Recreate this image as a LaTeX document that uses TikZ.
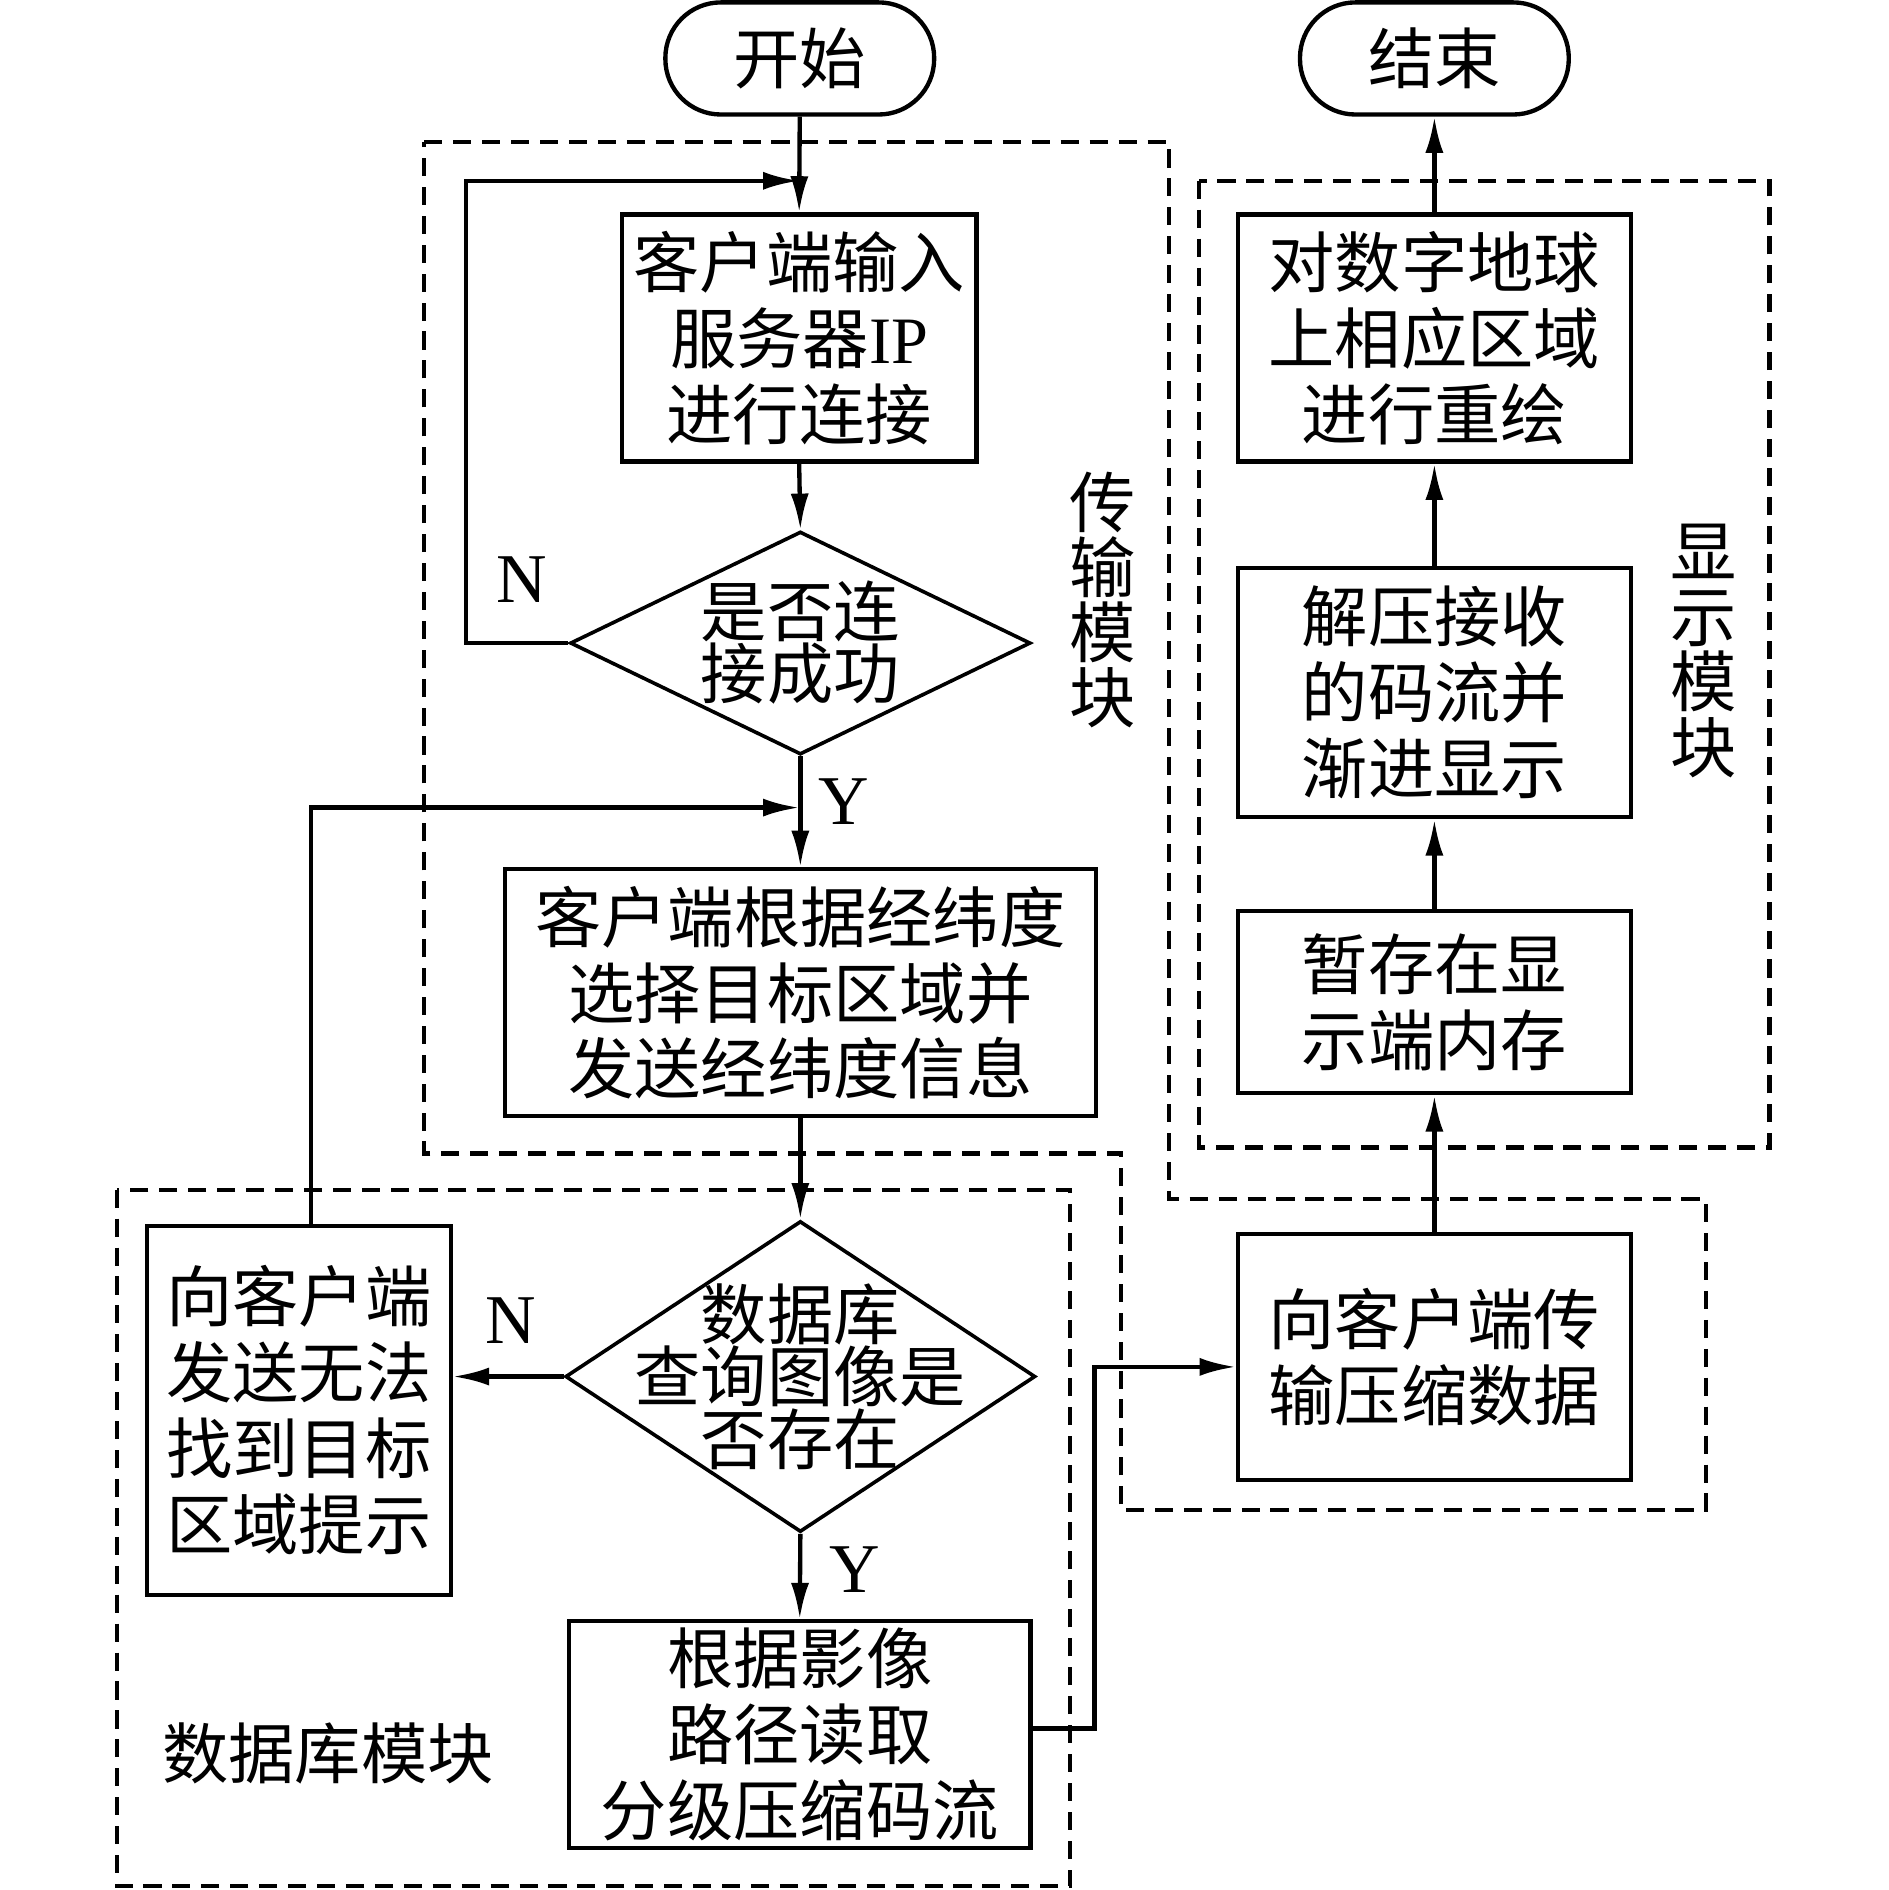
\documentclass[tikz,border=0pt]{standalone}
\usepackage{fontspec}
\setmainfont{Liberation Serif}
\newfontfamily\cjk{Noto Sans CJK SC}
\usetikzlibrary{arrows.meta,shapes.geometric}
\begin{document}
\begin{tikzpicture}[x=1pt,y=-1pt,
  every node/.style={inner sep=0pt},
  proc/.style={draw, line width=3.6pt, align=center, font=\cjk\fontsize{55}{63}\selectfont},
  term/.style={draw, line width=3.6pt, rounded corners=46pt, minimum width=223pt, minimum height=93pt, font=\cjk\fontsize{55}{63}\selectfont},
  dec/.style={draw, diamond, line width=3pt, inner sep=0pt},
  dectext/.style={align=center, font=\cjk\fontsize{55}{52}\selectfont},
  arr/.style={line width=3.6pt, -{Latex[length=30pt,width=15pt]}},
  module/.style={line width=3.4pt, dash pattern=on 15pt off 9pt},
  yn/.style={font=\fontsize{58}{58}\selectfont},
  modlabel/.style={align=center, font=\cjk\fontsize{55}{54}\selectfont}
]
\useasboundingbox (0,0) rectangle (1567,1568);

% module frames
\draw[module] (352,118) -- (970,118) -- (970,995) -- (1415,995) -- (1415,1253)
  -- (930,1253) -- (930,957) -- (352,957) -- cycle;
\draw[module] (995,150) rectangle (1468,952);
\draw[module] (97,987) rectangle (888,1565);

% nodes
\node[term] (start) at (663.5,48.5) {开始};
\node[term] (end) at (1190,48.5) {结束};
\node[proc, minimum width=294pt, minimum height=205pt] (b1) at (663,280.5)
  {客户端输入\\服务器{\rmfamily IP}\\进行连接};
\node[dec, minimum width=382pt, minimum height=185pt] (d1) at (664,533.5) {};
\node[dectext] (d1t) at (664,533) {是否连\\接成功};
\node[proc, minimum width=490pt, minimum height=205pt] (b2) at (664,823.5)
  {客户端根据经纬度\\选择目标区域并\\发送经纬度信息};
\node[dec, minimum width=390pt, minimum height=258pt] (d2) at (664,1142) {};
\node[dectext] (d2t) at (664,1142) {数据库\\查询图像是\\否存在};
\node[proc, minimum width=252pt, minimum height=306pt] (b3) at (248,1170)
  {向客户端\\发送无法\\找到目标\\区域提示};
\node[proc, minimum width=383pt, minimum height=188pt] (b4) at (663.5,1439)
  {根据影像\\路径读取\\分级压缩码流};
\node[proc, minimum width=326pt, minimum height=204pt] (b5) at (1190,1126)
  {向客户端传\\输压缩数据};
\node[proc, minimum width=326pt, minimum height=151pt] (b6) at (1190,831.5)
  {暂存在显\\示端内存};
\node[proc, minimum width=326pt, minimum height=207pt] (b7) at (1190,574.5)
  {解压接收\\的码流并\\渐进显示};
\node[proc, minimum width=326pt, minimum height=205pt] (b8) at (1190,280.5)
  {对数字地球\\上相应区域\\进行重绘};

% labels
\node[yn] (n1) at (433,481) {N};
\node[yn] (y1) at (700,665) {Y};
\node[yn] (n2) at (424,1096) {N};
\node[yn] (y2) at (709,1302) {Y};
\node[modlabel] (m1) at (915,498) {传\\输\\模\\块};
\node[modlabel] (m2) at (1413,540) {显\\示\\模\\块};
\node[font=\cjk\fontsize{55}{54}\selectfont] (m3) at (272,1455) {数据库模块};

% junctions
\coordinate (j1) at (663,150);
\coordinate (j2) at (663,670);
\coordinate (k1) at (908,1434);

% connectors
\draw[arr] (start.south) -- (b1.north);
\draw[arr] (b1.south) -- (d1.north);
\draw[arr] (d1.west) -- ++(-85,0) |- (j1);
\draw[arr] (d1.south) -- (b2.north);
\draw[arr] ([xshift=10pt]b3.north) |- (j2);
\draw[arr] (b2.south) -- (d2.north);
\draw[arr] (d2.west) -- (d2.west -| b3.east);
\draw[arr] (d2.south) -- (b4.north);
\draw[arr] (b4.east |- k1) -- (k1) |- ([yshift=-8pt]b5.west);
\draw[arr] (b5.north) -- (b6.south);
\draw[arr] (b6.north) -- (b7.south);
\draw[arr] (b7.north) -- (b8.south);
\draw[arr] (b8.north) -- (end.south);
\end{tikzpicture}
\end{document}
